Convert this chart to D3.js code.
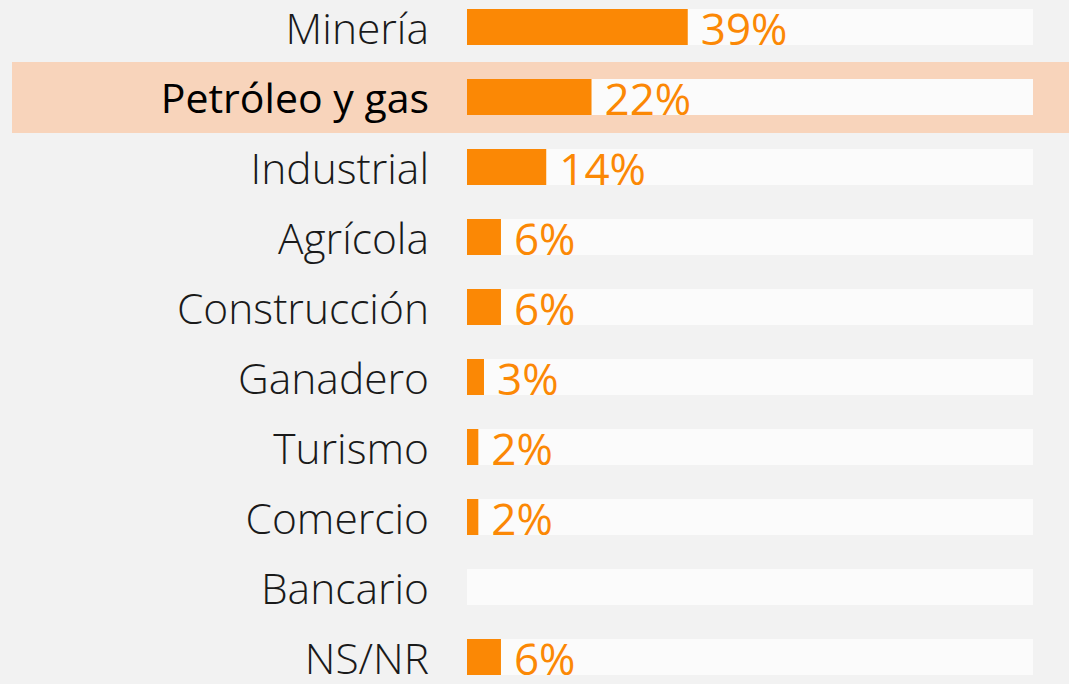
<!DOCTYPE html>
<html>
<head>
<meta charset="utf-8">
<script src="https://cdn.jsdelivr.net/npm/d3@7"></script>
<style>
  html, body { margin: 0; padding: 0; background: #f2f2f2; }
  svg { display: block; }
</style>
</head>
<body>
<svg id="svg" width="1069" height="684"></svg>
<script>
//categories and values (percent)
const CATEGORIES = ["Minería", "Petróleo y gas", "Industrial", "Agrícola", "Construcción",
    "Ganadero", "Turismo", "Comercio", "Bancario", "NS/NR"];
const VALUES = [39, 22, 14, 6, 6, 3, 2, 2, null, 6];
const HIGHLIGHT = "Petróleo y gas";

const data = CATEGORIES.map((c, i) => ({cat: c, value: VALUES[i]}));

const W = 1069, H = 684;
const svg = d3.select("#svg");

svg.append("rect")
    .attr("width", W).attr("height", H)
    .attr("fill", "#f2f2f2");

//scales
var x = d3.scaleLinear()
    .domain([0, 100])
    .range([467, 1033]);

var y = d3.scaleBand()
    .domain(CATEGORIES)
    .range([-8, 692])
    .paddingInner(34 / 70)
    .paddingOuter(17 / 70);

var gap = y.step() - y.bandwidth();

//highlight band
svg.append("rect")
    .attr("x", 12)
    .attr("y", y(HIGHLIGHT) - gap / 2)
    .attr("width", W - 12)
    .attr("height", y.step() + 1)
    .attr("fill", "#f8d4bb");

//white tracks
svg.selectAll("rect.track")
    .data(data)
    .enter()
    .append("rect")
    .attr("class", "track")
    .attr("x", x(0))
    .attr("y", d => y(d.cat))
    .attr("width", x(100) - x(0))
    .attr("height", y.bandwidth())
    .attr("fill", "#fbfbfb");

var withValue = data.filter(d => d.value != null);

//bars
svg.selectAll("rect.bar")
    .data(withValue)
    .enter()
    .append("rect")
    .attr("class", "bar")
    .attr("x", x(0))
    .attr("y", d => y(d.cat))
    .attr("width", d => x(d.value) - x(0))
    .attr("height", y.bandwidth())
    .attr("fill", "#fb8805");

//value labels
svg.selectAll("text.val")
    .data(withValue)
    .enter()
    .append("text")
    .attr("class", "val")
    .attr("x", d => x(d.value) + 13)
    .attr("y", d => y(d.cat) + y.bandwidth() / 2)
    .attr("dy", "0.41em")
    .attr("font-family", "'Open Sans', sans-serif")
    .attr("font-weight", 400)
    .attr("font-size", 44)
    .attr("fill", "#fb8805")
    .text(d => d.value + "%");

//category labels
svg.selectAll("text.cat")
    .data(data)
    .enter()
    .append("text")
    .attr("class", "cat")
    .attr("x", 429)
    .attr("y", d => y(d.cat) + y.bandwidth() / 2)
    .attr("dy", "0.4em")
    .attr("text-anchor", "end")
    .attr("font-family", "'Open Sans', sans-serif")
    .attr("font-weight", d => d.cat === HIGHLIGHT ? 400 : 300)
    .attr("font-size", d => d.cat === HIGHLIGHT ? 41 : 42.5)
    .attr("fill", d => d.cat === HIGHLIGHT ? "#000000" : "#1a1a1a")
    .text(d => d.cat);
</script>
</body>
</html>
